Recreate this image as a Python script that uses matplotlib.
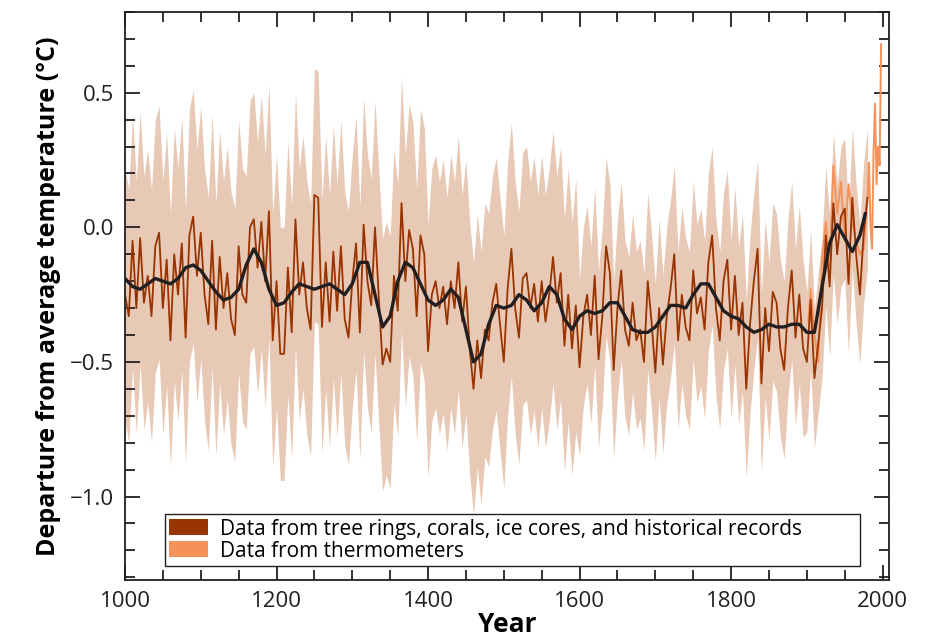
import numpy as np
import matplotlib
matplotlib.use('Agg')
import matplotlib.pyplot as plt
from matplotlib.patches import Patch
from matplotlib.ticker import MultipleLocator

plt.rcParams['font.family'] = ['Open Sans', 'DejaVu Sans']

# Proxy reconstruction, read every 5 years (1000-1980)
proxy = [
    -0.25, -0.33, -0.05, -0.30, -0.04, -0.28, -0.18, -0.33, -0.07, -0.02,   # 1000-1045
    -0.30, -0.12, -0.42, -0.10, -0.25, -0.06, -0.41, -0.03, 0.04, -0.18,    # 1050-1095
    -0.02, -0.25, -0.36, -0.05, -0.38, -0.11, -0.30, -0.17, -0.34, -0.40,   # 1100-1145
    -0.07, -0.25, -0.28, 0.00, 0.03, -0.15, 0.02, -0.20, 0.06, -0.42,       # 1150-1195
    -0.20, -0.47, -0.47, -0.15, -0.39, 0.03, -0.25, -0.13, -0.30, -0.38,    # 1200-1245
    0.12, 0.11, -0.37, -0.13, -0.35, -0.09, -0.31, -0.07, -0.34, -0.41,     # 1250-1295
    -0.20, -0.06, -0.39, 0.01, -0.20, -0.29, 0.00, -0.26, -0.51, -0.45,     # 1300-1345
    -0.50, -0.18, -0.31, 0.09, -0.20, -0.01, -0.08, -0.33, -0.03, -0.10,    # 1350-1395
    -0.46, -0.25, -0.20, -0.30, -0.22, -0.36, -0.20, -0.30, -0.13, -0.35,   # 1400-1445
    -0.22, -0.45, -0.60, -0.42, -0.56, -0.38, -0.42, -0.28, -0.21, -0.36,   # 1450-1495
    -0.50, -0.23, -0.08, -0.30, -0.41, -0.19, -0.17, -0.30, -0.21, -0.35,   # 1500-1545
    -0.20, -0.35, -0.25, -0.11, -0.28, -0.17, -0.44, -0.25, -0.45, -0.29,   # 1550-1595
    -0.52, -0.33, -0.25, -0.40, -0.18, -0.49, -0.33, -0.07, -0.17, -0.53,   # 1600-1645
    -0.30, -0.16, -0.38, -0.44, -0.28, -0.42, -0.38, -0.50, -0.20, -0.35,   # 1650-1695
    -0.54, -0.30, -0.51, -0.33, -0.23, -0.10, -0.42, -0.25, -0.37, -0.42,   # 1700-1745
    -0.16, -0.32, -0.26, -0.38, -0.13, -0.03, -0.30, -0.42, -0.20, -0.12,   # 1750-1795
    -0.38, -0.18, -0.40, -0.28, -0.60, -0.36, -0.20, -0.08, -0.58, -0.30,   # 1800-1845
    -0.46, -0.24, -0.28, -0.45, -0.53, -0.30, -0.16, -0.41, -0.25, -0.45,   # 1850-1895
    -0.50, -0.27, -0.56, -0.43, -0.30, -0.03, -0.22, 0.09, -0.10, 0.04,     # 1900-1945
    0.07, -0.21, 0.11, -0.10, -0.25, -0.02, 0.11,                            # 1950-1980
]
proxy_years = np.arange(1000, 1981, 5)
assert len(proxy) == len(proxy_years)

# uncertainty band half width by period
band_start = [1000, 1600, 1900]
band_half = [0.47, 0.33, 0.26]

# smoothed curve
smooth_years = [1000, 1010, 1020, 1030, 1040, 1050, 1060, 1070, 1080, 1090,
                1100, 1110, 1120, 1130, 1140, 1150, 1160, 1170, 1180, 1190,
                1200, 1210, 1220, 1230, 1240, 1250, 1260, 1270, 1280, 1290,
                1300, 1310, 1320, 1330, 1340, 1350, 1360, 1370, 1380, 1390,
                1400, 1410, 1420, 1430, 1440, 1450, 1460, 1470, 1480, 1490,
                1500, 1510, 1520, 1530, 1540, 1550, 1560, 1570, 1580, 1590,
                1600, 1610, 1620, 1630, 1640, 1650, 1660, 1670, 1680, 1690,
                1700, 1710, 1720, 1730, 1740, 1750, 1760, 1770, 1780, 1790,
                1800, 1810, 1820, 1830, 1840, 1850, 1860, 1870, 1880, 1890,
                1900, 1910, 1920, 1930, 1940, 1950, 1960, 1970, 1977]
smooth = [-0.19, -0.22, -0.23, -0.21, -0.19, -0.20, -0.21, -0.19, -0.15, -0.14,
          -0.16, -0.20, -0.24, -0.27, -0.26, -0.23, -0.14, -0.08, -0.13, -0.23,
          -0.29, -0.28, -0.24, -0.21, -0.22, -0.23, -0.22, -0.21, -0.23, -0.25,
          -0.21, -0.13, -0.13, -0.25, -0.37, -0.33, -0.20, -0.13, -0.15, -0.21,
          -0.27, -0.29, -0.27, -0.23, -0.26, -0.38, -0.50, -0.47, -0.36, -0.29,
          -0.30, -0.29, -0.25, -0.27, -0.31, -0.28, -0.22, -0.25, -0.34, -0.38,
          -0.33, -0.31, -0.32, -0.31, -0.28, -0.28, -0.33, -0.38, -0.39, -0.39,
          -0.37, -0.33, -0.29, -0.29, -0.30, -0.25, -0.21, -0.21, -0.26, -0.31,
          -0.33, -0.34, -0.37, -0.39, -0.38, -0.36, -0.37, -0.37, -0.36, -0.36,
          -0.39, -0.39, -0.22, -0.06, 0.01, -0.04, -0.09, -0.03, 0.05]

# thermometer record
thermo_years = [1902, 1905, 1910, 1915, 1920, 1925, 1930, 1935, 1940, 1945,
                1950, 1955, 1960, 1965, 1970, 1975, 1980, 1982, 1984, 1986,
                1988, 1990, 1992, 1994, 1996, 1998]
thermo = [-0.35, -0.23, -0.40, -0.50, -0.12, 0.02, -0.15, 0.23, 0.05, 0.17,
          -0.05, 0.16, 0.02, -0.05, -0.10, -0.08, 0.10, 0.24, 0.00, -0.08,
          0.28, 0.46, 0.16, 0.30, 0.23, 0.68]

brown = '#993300'
band_col = '#e8c9b5'
orange = '#f4925a'
ink = '#231f20'

proxy = np.array(proxy)
half = np.array(band_half)[np.searchsorted(band_start, proxy_years, side='right') - 1]

fig = plt.figure(figsize=(9.3, 6.39), dpi=100)
ax = fig.add_axes([0.1344, 0.0923, 0.822, 0.889])

ax.fill_between(proxy_years, proxy - half, proxy + half, color=band_col, lw=0)
ax.plot(thermo_years, thermo, color=orange, lw=1.4)
ax.plot(proxy_years, proxy, color=brown, lw=1.3)
ax.plot(smooth_years, smooth, color=ink, lw=2.4)

ax.set_xlim(1000, 2009)
ax.set_ylim(-1.31, 0.80)
ax.xaxis.set_major_locator(MultipleLocator(200))
ax.xaxis.set_minor_locator(MultipleLocator(50))
ax.yaxis.set_major_locator(MultipleLocator(0.5))
ax.yaxis.set_minor_locator(MultipleLocator(0.1))
ax.yaxis.set_major_formatter(plt.FuncFormatter(lambda v, p: f'{v:.1f}'.replace('-', '\u2212')))
ax.tick_params(which='both', direction='in', top=True, right=True, width=1.3,
               colors=ink, labelsize=16, pad=8)
ax.tick_params(which='major', length=11)
ax.tick_params(which='minor', length=7)
for s in ax.spines.values():
    s.set_linewidth(1.3)
    s.set_color(ink)

ax.set_xlabel('Year', fontsize=19, fontweight='bold', labelpad=-1)
ax.set_ylabel('Departure from average temperature (°C)', fontsize=18,
              fontweight='bold', labelpad=6)

# legend
handles = [Patch(facecolor=brown, edgecolor='none',
                 label='Data from tree rings, corals, ice cores, and historical records'),
           Patch(facecolor=orange, edgecolor='none', label='Data from thermometers')]
leg = ax.legend(handles=handles, loc='lower left', bbox_to_anchor=(0.052, 0.025, 0.91, 0.1),
                mode='expand', fontsize=15, frameon=True, fancybox=False, framealpha=1,
                handlelength=1.9, handleheight=0.8, handletextpad=0.55,
                borderpad=0.2, labelspacing=0.05, borderaxespad=0)
leg.get_frame().set_edgecolor(ink)
leg.get_frame().set_linewidth(1.0)

plt.savefig('out.png', dpi=100)
